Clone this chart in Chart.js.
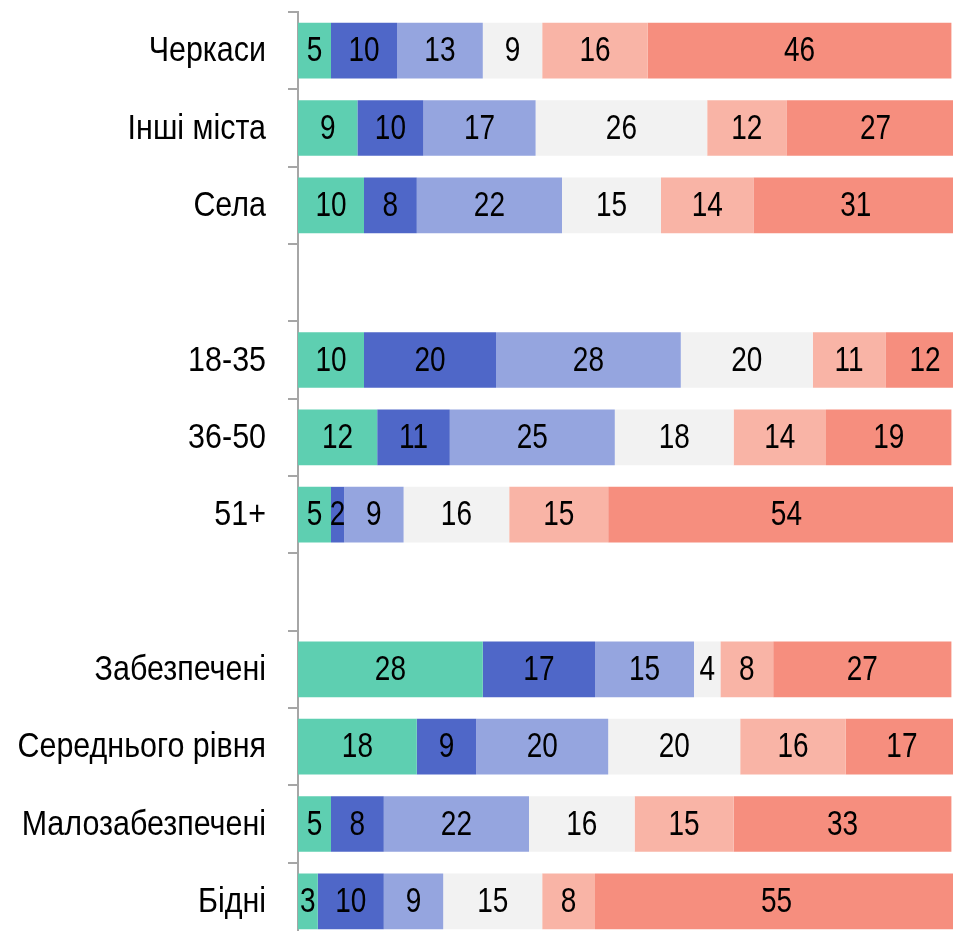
<!DOCTYPE html>
<html>
<head>
<meta charset="utf-8">
<script src="https://cdn.jsdelivr.net/npm/chart.js@4/dist/chart.umd.min.js"></script>
<style>
  html, body { margin: 0; padding: 0; background: #fff; overflow: hidden; }
  canvas { display: block; }
</style>
</head>
<body>
<canvas id="chart" width="960" height="940"></canvas>
<script>
// categories (empty strings are the gaps between groups)
const categories = ["Черкаси", "Інші міста", "Села", "", "18-35", "36-50", "51+", "", "Забезпечені", "Середнього рівня", "Малозабезпечені", "Бідні"];

// series values, one array per segment (left to right)
const s1 = [5, 9, 10, null, 10, 12, 5, null, 28, 18, 5, 3];
const s2 = [10, 10, 8, null, 20, 11, 2, null, 17, 9, 8, 10];
const s3 = [13, 17, 22, null, 28, 25, 9, null, 15, 20, 22, 9];
const s4 = [9, 26, 15, null, 20, 18, 16, null, 4, 20, 16, 15];
const s5 = [16, 12, 14, null, 11, 14, 15, null, 8, 16, 15, 8];
const s6 = [46, 27, 31, null, 12, 19, 54, null, 27, 17, 33, 55];

const colors = ["#5ECFB1", "#4F67C8", "#95A5DF", "#F2F2F2", "#F9B4A6", "#F68E7E"];
const fontFamily = "'Liberation Sans', Arial, sans-serif";
const fontSize = 35;

// squeeze text horizontally to get the narrow look of the original
function narrowText(ctx, text, x, y, align, sq) {
  ctx.save();
  ctx.translate(x, y);
  ctx.scale(sq, 1);
  ctx.textAlign = align;
  ctx.fillText(text, 0, 0);
  ctx.restore();
}

// value labels inside segments + category labels on the left
const textLayer = {
  id: "textLayer",
  afterDraw(chart) {
    const ctx = chart.ctx;
    ctx.save();
    ctx.font = fontSize + "px " + fontFamily;
    ctx.fillStyle = "#000";
    ctx.textBaseline = "middle";
    chart.data.datasets.forEach((ds, i) => {
      const meta = chart.getDatasetMeta(i);
      meta.data.forEach((bar, j) => {
        const v = ds.data[j];
        if (v == null) return;
        const p = bar.getProps(["x", "y", "base"], true);
        narrowText(ctx, String(v), (p.x + p.base) / 2, p.y + 1, "center", 0.8);
      });
    });
    const y = chart.scales.y;
    const right = chart.chartArea.left - 32;
    categories.forEach((c, i) => {
      if (!c) return;
      narrowText(ctx, c, right, y.getPixelForValue(i) + 1, "right", 0.87);
    });
    ctx.restore();
  }
};

const series = [s1, s2, s3, s4, s5, s6];

new Chart(document.getElementById("chart"), {
  type: "bar",
  data: {
    labels: categories,
    datasets: series.map((d, i) => ({
      label: "s" + (i + 1),
      data: d,
      backgroundColor: colors[i],
      borderWidth: 0,
      barPercentage: 0.72,
      categoryPercentage: 1
    }))
  },
  options: {
    indexAxis: "y",
    responsive: false,
    animation: false,
    layout: { padding: { top: 12, right: 2, bottom: 0, left: 0 } },
    plugins: {
      legend: { display: false },
      tooltip: { enabled: false }
    },
    scales: {
      x: {
        stacked: true,
        display: false,
        min: 0,
        max: 100
      },
      y: {
        stacked: true,
        afterFit: (s) => { s.width = 298; },
        border: { display: true, color: "#A6A6A6", width: 2 },
        grid: {
          offset: true,
          drawOnChartArea: false,
          drawTicks: true,
          tickLength: 10,
          color: "#A6A6A6",
          lineWidth: 2
        },
        ticks: { display: false }
      }
    }
  },
  plugins: [textLayer]
});
</script>
</body>
</html>
